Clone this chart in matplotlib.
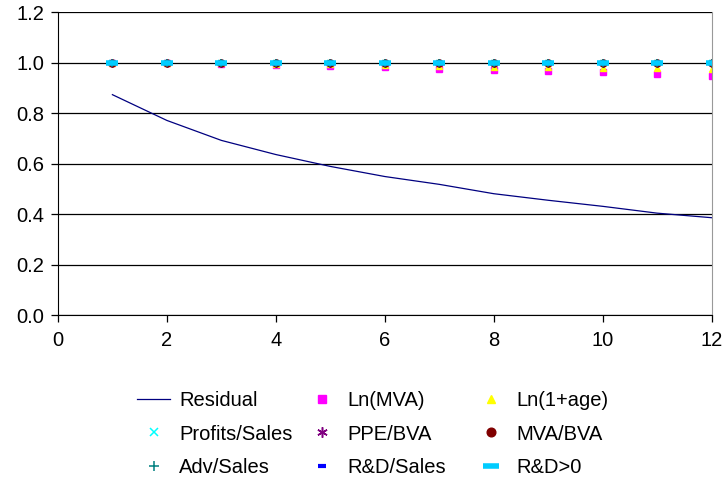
import matplotlib
matplotlib.use("Agg")
import matplotlib.pyplot as plt

plt.rcParams["font.family"] = ["Liberation Sans", "DejaVu Sans"]

horizon = list(range(1, 13))
residual = [0.873, 0.771, 0.692, 0.636, 0.589, 0.549, 0.518, 0.481, 0.455, 0.431, 0.404, 0.386]
ln_mva = [1.0, 0.997, 0.993, 0.99, 0.987, 0.982, 0.975, 0.972, 0.968, 0.962, 0.955, 0.948]
ln_age = [1.0, 0.999, 0.997, 0.995, 0.993, 0.99, 0.987, 0.984, 0.982, 0.98, 0.977, 0.973]
profits_sales = [1.0] * 12
ppe_bva = [1.0, 1.0, 1.0, 0.999, 0.999, 0.999, 0.998, 0.998, 0.998, 0.997, 0.997, 0.997]
mva_bva = [1.0] * 12
adv_sales = [1.0] * 12
rd_sales = [1.0] * 12
rd_pos = [1.0] * 12

fig = plt.figure(figsize=(7.24, 4.82), dpi=100)
ax = fig.add_axes([0.080, 0.346, 0.903, 0.629])

ax.plot(horizon, residual, color="#000080", lw=0.9, label="Residual")
ax.plot(horizon, ln_mva, ls="none", marker="s", ms=5, color="#FF00FF", label="Ln(MVA)")
ax.plot(horizon, ln_age, ls="none", marker="^", ms=5, color="#FFFF00", label="Ln(1+age)")
ax.plot(horizon, profits_sales, ls="none", marker="x", ms=5, mew=1.1, color="#00FFFF", label="Profits/Sales")
ax.plot(horizon, ppe_bva, ls="none", marker=(6, 2, 0), ms=6, mew=1.1, color="#800080", label="PPE/BVA")
ax.plot(horizon, mva_bva, ls="none", marker="o", ms=5, color="#800000", label="MVA/BVA")
ax.plot(horizon, adv_sales, ls="none", marker="+", ms=6, mew=1.1, color="#008080", label="Adv/Sales")
ax.plot(horizon, rd_sales, ls="none", marker="_", ms=5, mew=3, color="#0000FF", label="R&D/Sales")
ax.plot(horizon, rd_pos, ls="none", marker="_", ms=9, mew=4, color="#00CCFF", label="R&D>0")

ax.set_xlim(0, 12)
ax.set_ylim(0, 1.2)
ax.set_xticks(range(0, 13, 2))
ax.set_yticks([0.0, 0.2, 0.4, 0.6, 0.8, 1.0, 1.2])
ax.set_yticklabels([f"{v:.1f}" for v in [0.0, 0.2, 0.4, 0.6, 0.8, 1.0, 1.2]])
ax.yaxis.grid(True, color="black", lw=0.9)
ax.set_axisbelow(True)
ax.spines["top"].set_visible(False)
ax.spines["right"].set_color("#999999")
ax.tick_params(direction="out", length=5, width=0.9, labelsize=14.5, colors="black", pad=6)
ax.tick_params(axis="y", pad=5)

# Excel lays the legend out in equal-width columns; one legend per column
h, l = ax.get_legend_handles_labels()
columns = [[0, 3, 6], [1, 4, 7], [2, 5, 8]]
col_x = [137, 305, 474]
for idx, x0 in zip(columns, col_x):
    fig.legend([h[i] for i in idx], [l[i] for i in idx], frameon=False,
               loc="upper left", bbox_to_anchor=(x0 / 724, 1 - 391 / 482),
               fontsize=14.5, handlelength=1.65, labelspacing=0.72, markerscale=1.25,
               handletextpad=0.45, borderpad=0, borderaxespad=0)

fig.savefig("out.png", dpi=100)
